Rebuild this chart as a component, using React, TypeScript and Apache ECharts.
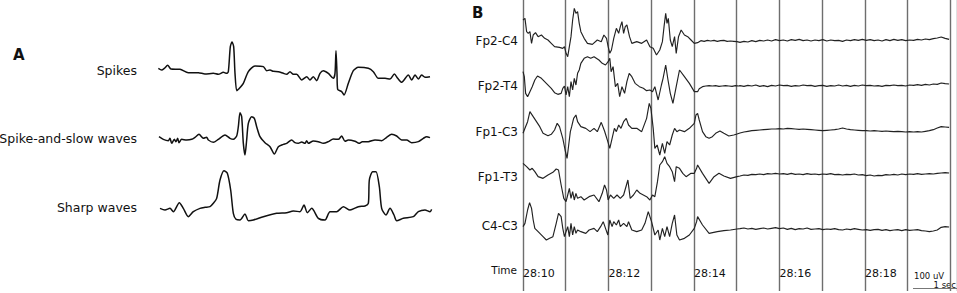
import React, { useEffect, useRef } from "react";
import * as echarts from "echarts";

// ---------- Panel B data (EEG, 130 samples per second, amplitude in display units) ----------
const FS = 130;
const timeLabels = ["28:10", "28:12", "28:14", "28:16", "28:18"];
const channelNames = ["Fp2-C4", "Fp2-T4", "Fp1-C3", "Fp1-T3", "C4-C3"];

const fp2c4Burst: [number, number][] = [
  [0, 63], [6, 68], [11, 28], [16, 23], [21, 28], [26, -7], [31, 18], [38, 25], [46, 13], [56, 18],
  [66, 8], [76, 3], [86, -7], [96, -17], [111, -19], [121, -22], [126, -17], [131, -37], [136, -47],
  [141, -17], [146, 13], [151, 63], [156, 98], [161, 83], [166, 88], [171, 53], [176, 28], [186, 8],
  [196, -7], [211, -10], [226, 3], [238, -2], [246, 18], [254, 8], [259, -17], [264, -37], [269, -27],
  [276, 8], [284, 38], [291, 23], [296, 43], [301, 58], [306, 23], [311, 43], [316, 48], [324, 13],
  [331, -7], [346, -2], [361, -7], [376, 3], [386, -17], [396, -22], [406, -42], [416, -27], [424, -2],
  [429, 43], [434, 83], [438, 53], [442, 68], [448, 3], [454, -17], [461, 13], [466, -37], [473, 13],
  [481, 33], [491, 18], [501, 13], [511, 3], [521, -7], [531, -5], [541, 1], [551, -1], [561, 2],
  [571, 0], [581, 2], [591, -1], [601, 1], [611, 2], [621, -1], [631, 0], [641, -1], [651, -2],
];
const fp2t4Burst: [number, number][] = [
  [0, 43], [4, 28], [8, -22], [14, -32], [21, -17], [28, -2], [36, 18], [44, 30], [56, 23], [71, 8],
  [86, -7], [96, -20], [106, -25], [116, -22], [121, -7], [126, 0], [131, -27], [136, -2], [141, -32],
  [146, 13], [151, -12], [156, 23], [161, 3], [166, 38], [171, 48], [176, 68], [186, 83], [196, 88],
  [206, 83], [216, 88], [231, 78], [241, 68], [251, 63], [259, 73], [264, 83], [268, 43], [274, 58],
  [281, -2], [288, 8], [294, -32], [301, -2], [309, -22], [316, 13], [323, 38], [331, 28], [341, 8],
  [354, -2], [366, -7], [376, -14], [386, -12], [394, -17], [401, -2], [411, -42], [421, 3], [426, 23],
  [434, 63], [441, 18], [448, -22], [456, -52], [466, -2], [476, 48], [491, 28], [506, 8], [521, -17],
  [531, -17], [536, -8], [546, -2], [556, 0], [566, 1], [576, 0], [586, 1], [596, -1], [606, 0],
  [616, 1], [626, 0], [636, -1], [646, 1], [656, 0],
];
const fp1c3Burst: [number, number][] = [
  [0, -10], [6, 5], [14, 25], [21, 55], [31, 40], [41, 25], [51, 10], [61, -10], [76, -17], [86, -13],
  [96, 0], [104, 20], [111, 10], [121, -25], [128, -60], [134, -85], [139, -45], [144, -5], [148, 10],
  [154, 35], [161, 45], [166, 25], [176, 10], [191, 5], [204, -5], [216, 5], [226, -5], [238, 23],
  [248, -3], [258, -35], [264, -55], [271, -25], [278, 5], [284, -5], [291, 15], [298, 5], [306, 25],
  [314, 35], [321, 15], [331, 5], [346, 5], [361, -5], [376, 35], [384, 80], [389, 65], [396, 5],
  [401, -55], [408, -45], [416, -75], [424, -40], [431, -70], [438, -35], [446, -45], [454, -15],
  [461, 5], [468, -5], [476, 0], [491, -5], [506, 5], [521, 20], [526, 45], [531, 50], [536, 30],
  [546, -5], [556, -20], [566, -25], [576, -20], [586, -10], [599, -3], [611, -10], [626, -18],
  [641, -15], [651, -12],
];
const fp1t3Burst: [number, number][] = [
  [0, 35], [11, 25], [21, 15], [28, 20], [36, 10], [46, -5], [61, -10], [76, 0], [91, 8], [101, 18],
  [108, 15], [116, -30], [124, -70], [131, -80], [136, -60], [141, -40], [146, -70], [151, -50],
  [156, -75], [161, -55], [166, -70], [176, -65], [186, -75], [201, -65], [216, -60], [231, -80],
  [241, -55], [248, -30], [254, -45], [259, -75], [266, -60], [276, -70], [286, -60], [296, -70],
  [306, -60], [319, -15], [326, -70], [336, -60], [346, -45], [356, -55], [366, -60], [376, -65],
  [386, -75], [394, -60], [401, -65], [409, -20], [416, 30], [424, 40], [431, 55], [438, 35], [446, 25],
  [454, 10], [461, -20], [466, 25], [476, 20], [486, 5], [496, -5], [511, 5], [521, 5], [528, 20],
  [531, 30], [546, 5], [566, -25], [581, -5], [596, 5], [611, -3], [631, -10], [651, -5],
];
const c4c3Burst: [number, number][] = [
  [0, 7], [6, 17], [14, 57], [20, 79], [26, 62], [31, 27], [36, 2], [46, -8], [61, -23], [71, -33],
  [81, -28], [91, -23], [101, 17], [108, 47], [116, 37], [121, 2], [126, -23], [131, -8], [136, 7],
  [141, -23], [146, 17], [151, -18], [156, 7], [161, -13], [166, -3], [176, -8], [191, -13], [201, -3],
  [216, 2], [226, -8], [236, 7], [244, 22], [251, 2], [258, -18], [264, 27], [271, 7], [276, 22],
  [284, 12], [291, 27], [296, 7], [306, 17], [316, 7], [321, 22], [331, -3], [346, -8], [361, -3],
  [371, 17], [381, 52], [391, 22], [401, -18], [411, -3], [416, -33], [424, 2], [431, -23], [438, 7],
  [446, -23], [454, 17], [461, 42], [468, -18], [476, -33], [491, -28], [506, -18], [521, 2], [528, 22],
  [531, 37], [546, 12], [566, -13], [591, -8], [611, -5], [631, -3], [651, 0],
];

// quiet tails after 28:14 (one value every 12 samples, from sample 660)
const TAIL_START = 660;
const TAIL_STEP = 12;
const fp2c4Tail = [-4, -1, -3, 1, -2, 2, 0, 3, 0, 4, 1, 3, 0, 4, 2, 5, 1, 3, 0, 3, 1, 4, 0, 3, 1, 2, -1, 3, 1, 4, 2, 5, 2, 4, 1, 3, 0, 4, 1, 5, 2, 4, 1, 3, 2, 5, 3, 6, 4, 7, 9, 12, 8, 5];
const fp2t4Tail = [1, -1, 2, 0, 3, -1, 1, -2, 2, 0, 3, 1, 2, -1, 1, 0, 3, 1, 2, -1, 1, 2, -1, 1, 0, 3, 0, 2, -1, 2, 0, 3, 1, 2, 0, 1, -1, 2, 1, 3, 1, 2, 0, 3, 2, 4, 2, 5, 3, 6, 5, 9, 7, 6];
const fp1c3Tail = [-9, -6, -4, -2, -1, 0, 1, 2, 3, 3, 4, 3, 5, 4, 3, 2, 3, 2, 1, 0, -1, -2, -1, 0, 1, 3, 6, 3, 1, 0, -1, -2, -2, -3, -2, -3, -4, -3, -4, -5, -4, -5, -6, -5, -6, -5, -6, -4, -2, 1, 6, 10, 9, 8];
const fp1t3Tail = [-3, 0, -1, 2, 1, 3, 1, 4, 3, 5, 3, 4, 2, 5, 2, 3, 1, 4, 2, 3, 1, 3, 2, 4, 1, 2, 0, 2, 1, 3, 0, 1, -2, 0, -3, -1, -2, 1, 0, 2, 0, 3, 1, 3, 2, 4, 2, 3, 4, 3, 5, 6, 7, 6];
const c4c3Tail = [1, 3, 0, 2, -1, 1, 3, 0, 2, 4, 1, 3, -1, 2, -2, 1, 0, 3, -1, 0, 1, -2, 0, -1, 1, -2, -3, 0, -2, 1, -1, -3, -2, -4, -2, -1, -4, -2, -5, -3, -2, -5, -2, -4, -3, -2, -5, -6, -8, -6, -3, 5, 7, 6];

// ---------- Panel A data (example waveforms) ----------
const waveNames = ["Spikes", "Spike-and-slow waves", "Sharp waves"];
const spikesWave: [number, number][] = [
  [10, 11], [20, 6], [28, 11], [38, 20], [48, 9], [75, 8], [100, -2], [130, -2], [150, -6], [175, -4],
  [190, -7], [205, -1], [215, -4], [220, 1], [226, 76], [231, 90], [236, 76], [240, -4], [245, -56],
  [250, -52], [265, -34], [280, 1], [300, 18], [325, 16], [335, 4], [345, 6], [355, 2], [370, 1],
  [385, -4], [395, -7], [405, 1], [415, -7], [425, -7], [440, -24], [455, -14], [465, -24], [475, -14],
  [485, -26], [495, -4], [505, 4], [520, -4], [535, -19], [540, -4], [543, 64], [546, -4], [548, -52],
  [560, -59], [567, -69], [580, -34], [595, 4], [610, 14], [640, 11], [655, 1], [670, -19], [690, -19],
  [705, -21], [718, -6], [728, -19], [740, -31], [760, -9], [770, -24], [780, -9], [790, -21], [800, -9],
  [810, -16], [825, -14],
];
const spikeSlowWave: [number, number][] = [
  [12, 10], [25, 2], [40, -2], [45, 5], [50, -10], [58, 2], [63, -5], [68, 5], [72, -8], [80, 2],
  [95, 0], [110, 2], [120, 8], [132, 17], [145, 5], [155, 8], [160, 0], [175, -7], [190, 2], [210, 15],
  [225, 5], [235, 2], [245, 12], [250, 40], [255, 82], [260, 70], [265, -10], [270, -45], [275, 0],
  [280, 50], [290, 70], [298, 65], [305, 40], [315, 10], [330, -8], [345, -20], [358, -42], [370, -20],
  [385, -13], [395, -10], [410, 0], [420, -8], [430, -10], [440, -6], [450, -10], [455, -2], [460, -10],
  [475, -3], [490, -5], [505, -10], [520, -5], [535, 3], [550, 2], [560, 12], [570, -4], [580, 0],
  [600, -4], [612, -10], [622, -5], [640, -5], [660, 0], [680, -2], [695, 8], [710, 17], [725, 12],
  [740, 0], [755, 0], [770, -8], [790, -5], [805, 5], [815, 10], [825, 7],
];
const sharpWave: [number, number][] = [
  [15, 2], [30, -3], [45, 2], [55, -8], [73, 19], [85, 2], [100, -23], [115, -8], [135, 2], [150, 5],
  [165, 7], [175, 17], [185, 32], [195, 87], [207, 115], [217, 107], [227, 57], [235, -13], [243, -31],
  [255, -33], [270, -15], [280, -35], [295, -33], [325, -23], [365, -13], [395, -11], [415, -6],
  [435, -8], [447, 12], [457, -11], [470, 2], [490, -28], [510, -33], [525, -8], [545, -8], [565, 7],
  [585, -3], [610, 7], [630, 9], [640, 17], [643, 87], [653, 112], [663, 112], [673, 67], [680, 2],
  [693, -18], [705, 2], [717, -18], [725, -35], [745, -28], [775, -23], [790, -8], [810, -3],
  [825, -8], [830, -1],
];

// ---------- layout (pixels) ----------
const UNITS_PER_PX = 3;
const channelBasePx = [41, 86, 130, 175, 229];
const channelLabelPx = [41, 86, 132, 177, 226];
const waveBasePx = [72, 140, 209];
const waveLabelPx = [70, 138, 207];
const FONT = "DejaVu Sans, Verdana, sans-serif";

function withTail(burst: [number, number][], tail: number[]): [number, number][] {
  return burst.concat(tail.map((v, i) => [TAIL_START + i * TAIL_STEP, v] as [number, number]));
}

export default function App() {
  const ref = useRef<HTMLDivElement>(null);
  useEffect(() => {
    if (!ref.current) return;
    const chart = echarts.init(ref.current, undefined, { renderer: "svg" });
    const channels = [
      withTail(fp2c4Burst, fp2c4Tail),
      withTail(fp2t4Burst, fp2t4Tail),
      withTail(fp1c3Burst, fp1c3Tail),
      withTail(fp1t3Burst, fp1t3Tail),
      withTail(c4c3Burst, c4c3Tail),
    ];
    const waves = [spikesWave, spikeSlowWave, sharpWave];

    const series: any[] = [];
    channels.forEach((d, i) => {
      const base = channelBasePx[i] * UNITS_PER_PX;
      series.push({
        type: "line",
        name: channelNames[i],
        xAxisIndex: 1,
        yAxisIndex: 1,
        showSymbol: false,
        silent: true,
        lineStyle: { color: "#222", width: 1.15 },
        data: d.map(([x, a]) => [x, base - a]),
      });
    });
    waves.forEach((d, i) => {
      const base = waveBasePx[i] * UNITS_PER_PX;
      series.push({
        type: "line",
        name: waveNames[i],
        xAxisIndex: 0,
        yAxisIndex: 0,
        showSymbol: false,
        silent: true,
        smooth: 0.25,
        lineStyle: { color: "#111", width: 1.5 },
        data: d.map(([x, a]) => [x, base - a]),
      });
    });

    const txt = (text: string, x: number, y: number, font: string, align: string) => ({
      type: "text",
      x,
      y,
      silent: true,
      style: {
        text,
        font,
        fill: "#111",
        align,
        textAlign: align,
        verticalAlign: "middle",
        textVerticalAlign: "middle",
      },
    });

    const graphics: any[] = [
      txt("A", 13, 55, `bold 15px ${FONT}`, "left"),
      txt("B", 472, 13, `bold 15px ${FONT}`, "left"),
      txt("Time", 517, 270, `10.5px ${FONT}`, "right"),
      txt("100 uV", 914, 276, `8.5px ${FONT}`, "left"),
      txt("1 sec", 956, 285, `8.5px ${FONT}`, "right"),
      {
        type: "line",
        silent: true,
        shape: { x1: 913, y1: 288.5, x2: 957, y2: 288.5 },
        style: { stroke: "#777", lineWidth: 1 },
      },
    ];
    channelNames.forEach((n, i) => graphics.push(txt(n, 518, channelLabelPx[i], `12px ${FONT}`, "right")));
    waveNames.forEach((n, i) => graphics.push(txt(n, 137, waveLabelPx[i], `12.5px ${FONT}`, "right")));

    chart.setOption({
      animation: false,
      backgroundColor: "#fff",
      grid: [
        { left: 155, top: 0, width: 285, height: 290 },
        { left: 523, top: 0, width: 440, height: 291 },
      ],
      xAxis: [
        { type: "value", gridIndex: 0, min: 0, max: 855, show: false },
        {
          type: "value",
          gridIndex: 1,
          min: 0,
          max: 1320,
          interval: FS,
          axisLine: { show: false },
          axisTick: { show: false },
          splitLine: { show: true, lineStyle: { color: "#6e6e6e", width: 1.4 } },
          axisLabel: {
            inside: true,
            margin: 18,
            align: "left",
            verticalAlign: "middle",
            color: "#111",
            fontSize: 11,
            fontFamily: FONT,
            showMinLabel: true,
            showMaxLabel: false,
            formatter: (v: number) => {
              const idx = Math.round(v / FS);
              return idx % 2 === 0 && idx / 2 < timeLabels.length ? timeLabels[idx / 2] : "";
            },
          },
        },
      ],
      yAxis: [
        { type: "value", gridIndex: 0, inverse: true, min: 0, max: 870, show: false },
        { type: "value", gridIndex: 1, inverse: true, min: 0, max: 873, show: false },
      ],
      graphic: graphics,
      series,
    });
    return () => chart.dispose();
  }, []);
  return (
    <div
      ref={ref}
      style={{ position: "fixed", left: 0, top: 0, width: 957, height: 293, background: "#fff" }}
    />
  );
}
